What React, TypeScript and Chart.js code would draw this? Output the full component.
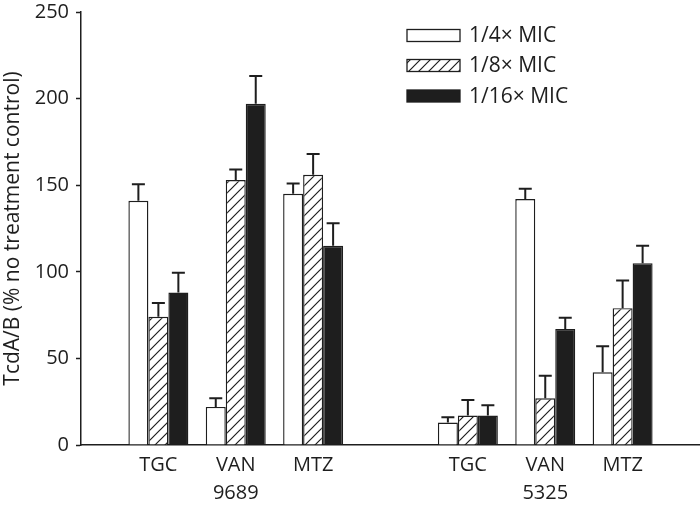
import React, { useEffect, useRef } from "react";
import { Chart, registerables } from "chart.js";
Chart.register(...registerables);

const categories: (string | string[])[] = ["", "TGC", ["VAN", "9689"], "MTZ", "", "TGC", ["VAN", "5325"], "MTZ", ""];
const seriesNames = ["1/4× MIC", "1/8× MIC", "1/16× MIC"];
const quarterMIC = [null, 141, 22, 145, null, 13, 142, 42, null];
const quarterErr = [null, 9.5, 5, 6, null, 3, 6, 15, null];
const eighthMIC = [null, 74, 153, 156, null, 17, 27, 79, null];
const eighthErr = [null, 8, 6, 12, null, 9, 13, 16, null];
const sixteenthMIC = [null, 88, 197, 115, null, 17, 67, 105, null];
const sixteenthErr = [null, 11.5, 16, 13, null, 6, 6.5, 10, null];
const yMin = 0;
const yMax = 250;
const yStep = 50;
const yTitle = "TcdA/B (% no treatment control)";

const FONT = "'Open Sans', 'DejaVu Sans', sans-serif";
const INK = "#1e1e1e";

function makeHatch(): CanvasPattern | string {
  const c = document.createElement("canvas");
  const s = 10;
  c.width = s;
  c.height = s;
  const x = c.getContext("2d");
  if (!x) return "#fff";
  x.fillStyle = "#fff";
  x.fillRect(0, 0, s, s);
  x.strokeStyle = INK;
  x.lineWidth = 1.2;
  x.beginPath();
  x.moveTo(-1, s + 1);
  x.lineTo(s + 1, -1);
  x.moveTo(-1, 1);
  x.lineTo(1, -1);
  x.moveTo(s - 1, s + 1);
  x.lineTo(s + 1, s - 1);
  x.stroke();
  const p = x.createPattern(c, "repeat");
  return p || "#fff";
}

export default function App() {
  const ref = useRef<HTMLCanvasElement | null>(null);
  useEffect(() => {
    if (!ref.current) return;
    const hatch = makeHatch();
    const errs = [quarterErr, eighthErr, sixteenthErr];
    const fills: (string | CanvasPattern)[] = ["#ffffff", hatch, INK];

    const errorPlugin = {
      id: "errbars",
      afterDatasetsDraw(chart: any) {
        const ctx = chart.ctx;
        const y = chart.scales.y;
        ctx.save();
        ctx.strokeStyle = INK;
        ctx.lineWidth = 2;
        chart.data.datasets.forEach((ds: any, i: number) => {
          const meta = chart.getDatasetMeta(i);
          meta.data.forEach((bar: any, j: number) => {
            const v = ds.data[j];
            const e = errs[i][j];
            if (v == null || e == null) return;
            const top = y.getPixelForValue(v + e);
            ctx.beginPath();
            ctx.moveTo(bar.x, bar.y);
            ctx.lineTo(bar.x, top);
            ctx.moveTo(bar.x - 6.5, top);
            ctx.lineTo(bar.x + 6.5, top);
            ctx.stroke();
          });
        });
        ctx.restore();
      },
    };

    const legendPlugin = {
      id: "customLegend",
      afterDraw(chart: any) {
        const ctx = chart.ctx;
        ctx.save();
        const bx = 407, bw = 53, bh = 12;
        const rows = [35.5, 65.5, 96];
        seriesNames.forEach((name, i) => {
          const cy = rows[i];
          ctx.fillStyle = fills[i];
          ctx.fillRect(bx, cy - bh / 2, bw, bh);
          ctx.strokeStyle = INK;
          ctx.lineWidth = 1.3;
          ctx.strokeRect(bx, cy - bh / 2, bw, bh);
          ctx.fillStyle = INK;
          ctx.font = `21px ${FONT}`;
          ctx.textAlign = "left";
          ctx.textBaseline = "middle";
          ctx.fillText(name, 469, cy + 1);
        });
        ctx.restore();
      },
    };

    const mk = (i: number, data: (number | null)[]) => ({
      label: seriesNames[i],
      data,
      backgroundColor: fills[i],
      borderColor: INK,
      borderWidth: 1.4,
      categoryPercentage: 0.775,
      barPercentage: 1,
    });

    const chart = new Chart(ref.current, {
      type: "bar",
      data: {
        labels: categories,
        datasets: [mk(0, quarterMIC), mk(1, eighthMIC), mk(2, sixteenthMIC)],
      },
      options: {
        animation: false,
        responsive: false,
        maintainAspectRatio: false,
        layout: { padding: { top: 12, right: 0, left: 0, bottom: 0 } },
        plugins: { legend: { display: false }, tooltip: { enabled: false } },
        scales: {
          x: {
            offset: false,
            grid: { display: false, drawTicks: false },
            border: { display: true, color: INK, width: 1.5 },
            ticks: {
              color: INK,
              font: { family: FONT, size: 20, lineHeight: 1.42 },
              padding: 6,
              maxRotation: 0,
              autoSkip: false,
            },
            afterFit(scale: any) {
              scale.height = 64;
              scale.paddingLeft = 0;
              scale.paddingRight = 0;
            },
          },
          y: {
            min: yMin,
            max: yMax,
            grid: { drawOnChartArea: false, drawTicks: true, tickLength: 5, tickWidth: 1.5, color: INK },
            border: { display: true, color: INK, width: 1.5 },
            ticks: { stepSize: yStep, color: INK, font: { family: FONT, size: 20, lineHeight: 1.0 }, padding: 7 },
            title: {
              display: true,
              text: yTitle,
              color: INK,
              font: { family: FONT, size: 21 },
              padding: { top: 0, bottom: 4 },
            },
            afterFit(scale: any) {
              scale.width = 81;
              scale.paddingTop = 0;
              scale.paddingBottom = 0;
            },
          },
        },
      },
      plugins: [errorPlugin, legendPlugin],
    } as any);
    return () => chart.destroy();
  }, []);
  return (
    <div style={{ position: "fixed", left: 0, top: 0, width: 700, height: 509, background: "#fff" }}>
      <canvas ref={ref} width={700} height={509} style={{ width: 700, height: 509, display: "block" }} />
    </div>
  );
}
